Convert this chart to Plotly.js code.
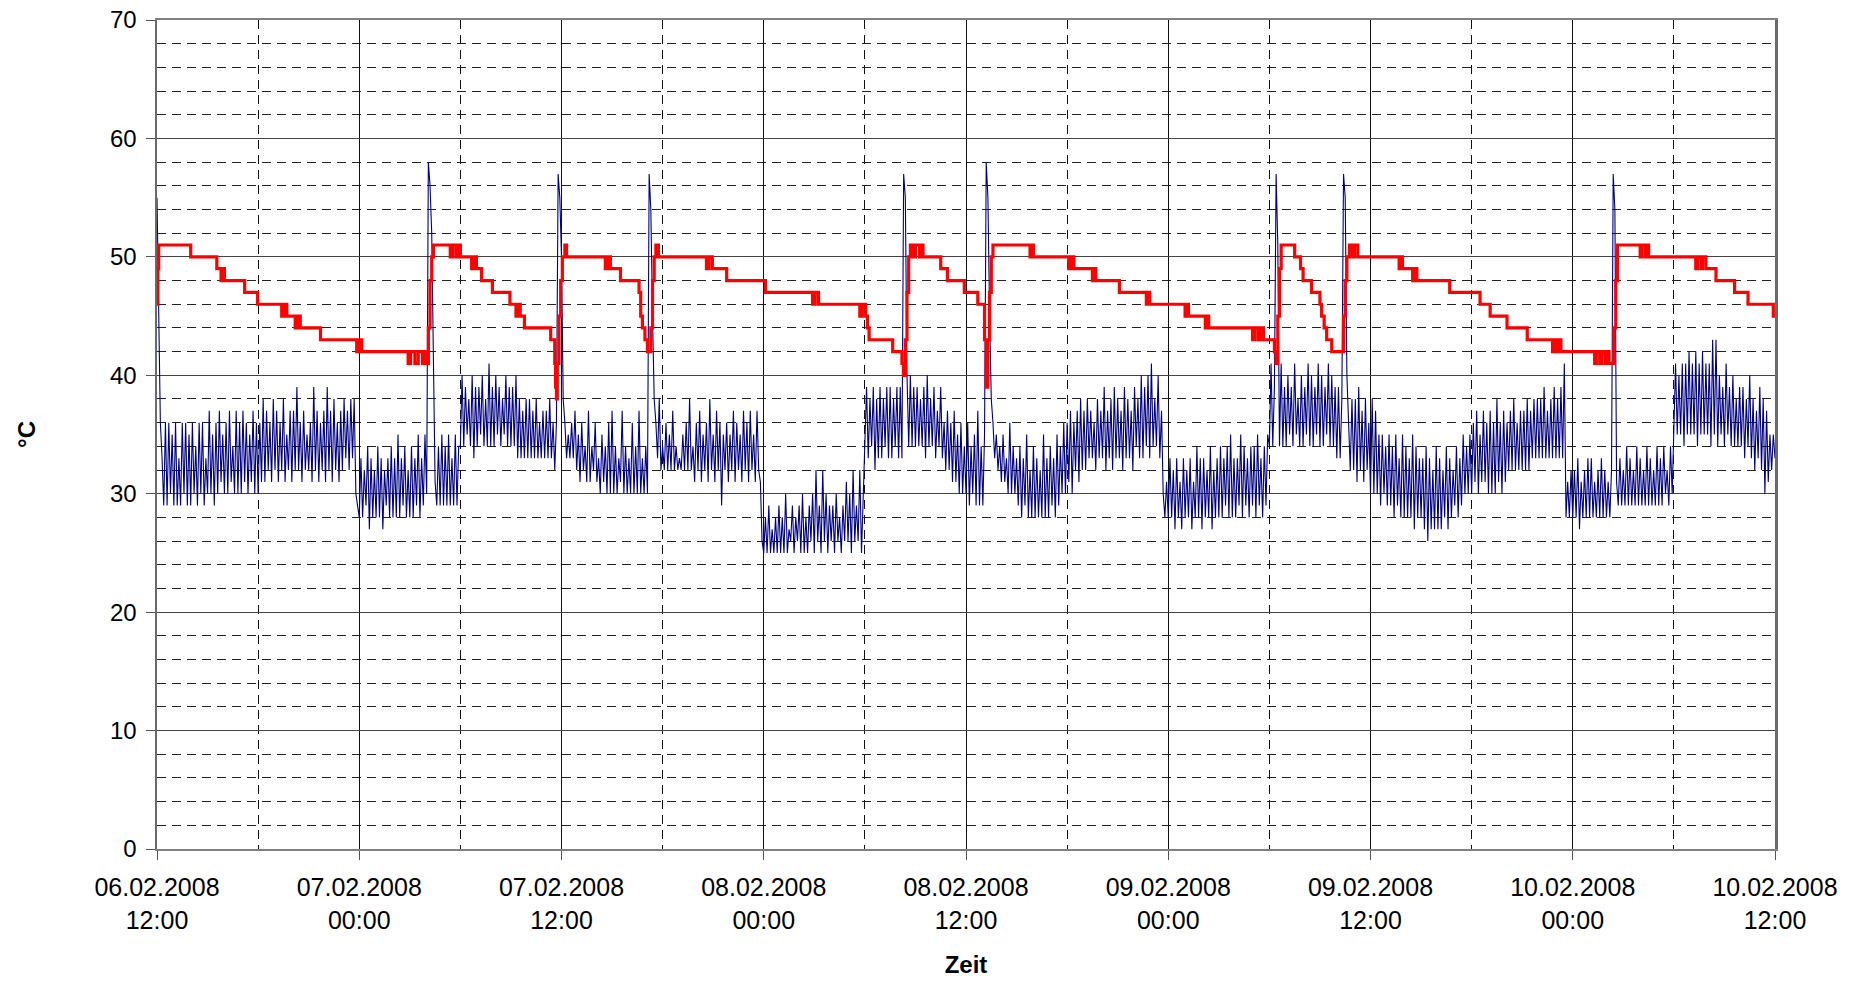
<!DOCTYPE html>
<html>
<head>
<meta charset="utf-8">
<script src="https://cdn.plot.ly/plotly-3.0.1.min.js"></script>
<style>html,body{margin:0;padding:0;background:#fff;}#chart{width:1854px;height:984px;}</style>
</head>
<body>
<div id="chart"></div>
<script>
// Start of the time axis and sampling of the blue series (one value every 6 minutes)
const startTime = Date.UTC(2008, 1, 6, 12, 0, 0);
const sampleMinutes = 6;

// Tick labels (every 12 hours)
const tickHours = [0, 12, 24, 36, 48, 60, 72, 84, 96];
const tickLabels = [
  "06.02.2008<br>12:00", "07.02.2008<br>00:00", "07.02.2008<br>12:00",
  "08.02.2008<br>00:00", "08.02.2008<br>12:00", "09.02.2008<br>00:00",
  "09.02.2008<br>12:00", "10.02.2008<br>00:00", "10.02.2008<br>12:00"
];

// Blue series (°C), 10 values per hour, 12 hours per block
const blue06pm = [
  55,44,36,33,29,36,29,36,30,35, 29,36,29,33,29,36,30,36,29,35, 29,36,30,34,29,36,30,36,29,33,
  30,37,30,35,29,36,30,37,31,35, 30,36,30,37,31,34,30,37,30,36, 30,37,31,36,30,35,31,37,30,36,
  30,36,31,38,31,37,32,36,31,38, 32,37,31,36,32,38,31,35,32,37, 31,37,32,39,32,36,31,37,32,35,
  32,36,31,39,32,37,31,36,32,37, 31,39,32,37,31,38,32,36,31,37, 32,38,33,37,32,38,33,38,30,29
];
const blue07am = [
  28,33,28,32,29,34,27,33,28,32, 28,34,28,33,27,32,29,33,28,34, 28,33,28,35,28,33,29,34,28,32,
  28,34,28,33,29,35,28,33,29,35, 30,58,56,52,40,31,29,34,29,35, 29,34,29,35,29,33,29,35,29,34,
  34,40,34,39,35,38,34,40,33,39, 34,39,35,40,34,38,34,41,34,39, 34,40,35,39,34,38,35,40,34,39,
  34,39,34,40,33,38,33,37,33,38, 33,38,33,37,33,38,33,36,33,37, 33,37,33,38,33,36,32,36,57,55
];
const blue07pm = [
  50,38,36,33,35,33,36,33,37,32, 35,31,36,32,34,31,37,31,34,32, 36,31,33,30,35,31,34,30,36,30,
  37,30,34,30,33,31,37,30,34,30, 33,30,36,30,34,30,37,30,33,30, 34,30,57,54,45,38,36,33,38,32,
  34,32,36,32,35,32,37,32,34,32, 33,32,35,32,36,32,38,32,34,31, 36,32,37,31,35,32,36,31,38,32,
  35,31,37,32,36,29,35,32,36,31, 35,32,37,31,36,32,35,31,37,32, 36,31,37,32,35,31,37,32,31,26
];
const blue08am = [
  25,28,25,29,25,27,25,28,25,29, 25,28,25,30,25,27,26,29,25,28, 26,29,25,30,25,28,25,29,26,30,
  25,32,26,29,25,32,26,30,25,29, 26,29,25,30,26,28,25,29,26,31, 26,30,25,32,26,29,26,32,25,30,
  33,39,33,38,34,39,32,38,33,39, 33,38,34,39,33,39,33,38,34,39, 33,39,33,57,55,40,34,40,34,39,
  34,39,34,38,34,39,33,40,34,38, 34,39,33,37,34,39,33,36,32,37, 32,36,31,37,31,35,30,36,30,34
];
const blue08pm = [
  30,36,29,34,30,35,29,37,29,34, 29,35,58,55,45,38,36,33,35,32, 34,31,35,31,33,30,36,30,34,30,
  33,29,34,28,33,29,35,28,32,28, 34,28,33,28,32,28,35,28,33,28, 34,29,33,28,35,29,34,30,36,30,
  36,31,37,30,36,32,37,31,38,32, 37,32,38,33,37,33,36,32,38,33, 37,33,39,32,37,33,38,32,39,33,
  38,33,37,32,39,33,38,33,37,32, 39,34,38,33,40,33,39,34,40,33, 41,34,38,34,40,33,37,30,28,31
];
const blue09am = [
  28,33,28,32,27,33,28,31,27,33, 28,32,28,33,27,31,28,34,28,33, 27,33,28,32,28,34,27,32,28,33,
  28,34,28,33,29,34,28,35,28,33, 28,33,29,35,28,34,29,33,28,34, 29,34,28,35,29,33,28,34,29,35,
  34,41,34,39,57,51,34,41,34,39, 34,40,35,39,34,41,35,38,34,40, 34,39,35,41,34,40,34,39,35,41,
  34,40,34,39,35,41,34,40,34,39, 33,39,33,38,57,55,40,36,32,38, 32,38,31,39,32,37,31,38,32,36
];
const blue09pm = [
  30,38,30,37,30,35,29,35,30,34, 29,35,29,34,28,35,29,33,28,35, 28,34,28,33,28,35,27,34,28,33,
  28,33,27,34,26,33,27,32,27,34, 27,33,27,32,28,34,27,33,28,32, 29,34,28,33,29,35,30,34,30,35,
  30,36,31,37,30,35,31,37,31,36, 30,37,30,36,30,38,31,36,30,37, 31,36,32,37,32,38,32,36,32,37,
  32,37,32,38,32,37,33,38,33,38, 33,38,33,39,33,37,33,38,33,39, 33,38,33,39,33,41,28,31,28,32
];
const blue10am = [
  28,32,28,33,27,31,28,32,28,33, 28,33,28,31,28,32,28,33,28,32, 28,31,28,32,57,54,31,29,33,29,
  32,29,34,29,33,29,32,29,34,29, 33,29,32,29,34,29,33,29,32,29, 34,29,33,29,34,30,32,29,34,30,
  35,41,35,40,35,41,34,41,35,42, 35,41,35,42,34,41,35,42,35,41, 35,41,34,43,35,43,34,40,35,39,
  34,41,35,39,34,40,34,38,34,39, 34,39,33,38,34,40,33,38,32,37, 33,39,32,38,30,37,31,35,32,35,
  33
];

// Red series (°C) as steps: [hours after start, value from then on]
const redSteps = [
  [0,46],[0.05,49],[0.1,51],[2.0,50],[3.55,49],[3.8,48],[3.9,49],[4.0,48],[5.2,47],[5.97,46],
  [7.4,45],[7.55,46],[7.7,45],[8.2,44],[8.35,45],[8.5,44],[9.7,43],[11.85,42],[12.0,43],[12.15,42],
  [14.9,41],[15.05,42],[15.3,41],[15.5,42],[15.75,41],[15.9,42],
  [16.0,41],[16.1,44],[16.2,48],[16.3,50],[16.4,51],[17.4,50],[17.55,51],[17.75,50],
  [17.9,51],[18.0,50],[18.67,49],[18.8,50],[18.95,49],[19.26,48],[19.9,47],[20.94,46],[21.3,45],[21.4,46],
  [21.55,45],[21.8,44],[23.36,43],[23.6,41],[23.65,39],[23.7,38],[23.75,41],[23.85,45],[23.95,48],[24.05,50],
  [24.2,51],[24.3,50],[26.6,49],[26.75,50],[26.9,49],[27.5,48],[28.6,47],[28.7,45],[28.8,44],[28.95,43],
  [29.1,42],[29.3,44],[29.4,48],[29.5,50],[29.6,51],[29.75,50],[32.6,49],[32.75,50],[32.95,49],
  [33.8,48],[36.1,47],[38.9,46],[39.05,47],[39.25,46],[41.7,45],[41.85,46],
  [42.05,45],[42.15,44],[42.25,43],[43.65,42],[44.2,41],[44.3,40],[44.4,43],[44.5,47],[44.6,50],[44.7,51],
  [44.85,50],[45.0,51],[45.25,50],[45.35,51],[45.45,50],[46.5,49],[46.9,48],[47.9,47],[48.7,46],[49.1,43],
  [49.2,39],[49.3,43],[49.4,47],[49.5,50],[49.6,51],[51.8,50],[51.9,51],[52.0,50],[54.1,49],[54.25,50],
  [54.4,49],[55.5,48],[55.6,49],[55.7,48],[57.1,47],[58.7,46],[58.8,47],[58.9,46],[61.0,45],[61.1,46],
  [61.2,45],[62.2,44],[62.3,45],[62.4,44],[65.0,43],[65.15,44],[65.35,43],[65.5,44],
  [65.65,43],[66.3,42],[66.4,41],[66.5,45],[66.6,49],[66.7,51],[67.5,50],[67.85,49],[68.0,48],[68.5,47],
  [69.0,46],[69.1,45],[69.25,44],[69.4,43],[69.7,42],[70.4,45],[70.5,48],[70.6,50],[70.75,51],[70.9,50],
  [71.05,51],[71.25,50],[73.7,49],[73.8,50],[73.9,49],[74.5,48],[74.6,49],[74.75,48],
  [76.7,47],[78.5,46],[79.1,45],[80.1,44],[81.3,43],[82.8,42],[82.9,43],[83.05,42],[83.2,43],[83.3,42],
  [85.3,41],[85.4,42],[85.6,41],[85.75,42],[85.95,41],[86.05,42],[86.15,41],[86.45,44],[86.55,48],[86.65,51],
  [88.0,50],[88.1,51],[88.3,50],[88.4,51],[88.5,50],[91.3,49],[91.4,50],[91.6,49],[91.7,50],[91.9,49],
  [92.5,48],[93.6,47],[94.4,46],[95.9,45],[96,45]
];

const HOUR = 3600000;
const blueValues = [].concat(blue06pm, blue07am, blue07pm, blue08am, blue08pm, blue09am, blue09pm, blue10am);
const blueX = blueValues.map((_, i) => new Date(startTime + i * sampleMinutes * 60000));
const redX = redSteps.map(p => new Date(startTime + p[0] * HOUR));
const redY = redSteps.map(p => p[1]);
const tickVals = tickHours.map(h => new Date(startTime + h * HOUR));

const fontFam = '"Liberation Sans", Arial, Helvetica, sans-serif';

const traces = [
  { x: blueX, y: blueValues, type: 'scatter', mode: 'lines',
    line: { color: '#000080', width: 1.1 }, hoverinfo: 'skip', showlegend: false },
  { x: redX, y: redY, type: 'scatter', mode: 'lines',
    line: { color: '#FF0000', width: 3.2, shape: 'hv' }, hoverinfo: 'skip', showlegend: false }
];

const layout = {
  width: 1854, height: 984,
  margin: { l: 157, r: 79, t: 20, b: 135 },
  paper_bgcolor: '#ffffff', plot_bgcolor: '#ffffff',
  font: { family: fontFam, color: '#000', size: 23 },
  showlegend: false,
  xaxis: {
    type: 'date',
    range: [new Date(startTime), new Date(startTime + 96 * HOUR)],
    tickmode: 'array', tickvals: tickVals, ticktext: tickLabels,
    ticks: 'outside', ticklen: 9, tickcolor: '#555', tickwidth: 1,
    tickfont: { size: 25, family: fontFam, color: '#000' },
    ticklabelstandoff: 6,
    showgrid: true, gridcolor: '#111', gridwidth: 1,
    minor: { tickmode: 'linear', tick0: new Date(startTime + 6 * HOUR), dtick: 6 * HOUR,
             showgrid: true, griddash: '9px,6px', gridcolor: '#111', gridwidth: 1, ticks: '' },
    showline: true, linecolor: '#808080', linewidth: 2, mirror: true,
    zeroline: false, automargin: false, fixedrange: true,
    title: { text: '<b>Zeit</b>', font: { size: 24, family: fontFam, color: '#000' }, standoff: 24 }
  },
  yaxis: {
    range: [0, 70], tickmode: 'linear', tick0: 0, dtick: 10,
    ticks: 'outside', ticklen: 9, tickcolor: '#555', tickwidth: 1,
    tickfont: { size: 24, family: fontFam, color: '#000' },
    showgrid: true, gridcolor: '#444', gridwidth: 1,
    minor: { tickmode: 'linear', tick0: 0, dtick: 2, showgrid: true, griddash: '9px,6px',
             gridcolor: '#222', gridwidth: 1, ticks: '' },
    showline: true, linecolor: '#6a6a6a', linewidth: 2.5, mirror: true,
    zeroline: false, automargin: false, fixedrange: true, ticklabelstandoff: 4,
    title: { text: '<b>°C</b>', font: { size: 24, family: fontFam, color: '#000' }, standoff: 68 }
  }
};

Plotly.newPlot('chart', traces, layout, { staticPlot: true, displayModeBar: false });
</script>
</body>
</html>
